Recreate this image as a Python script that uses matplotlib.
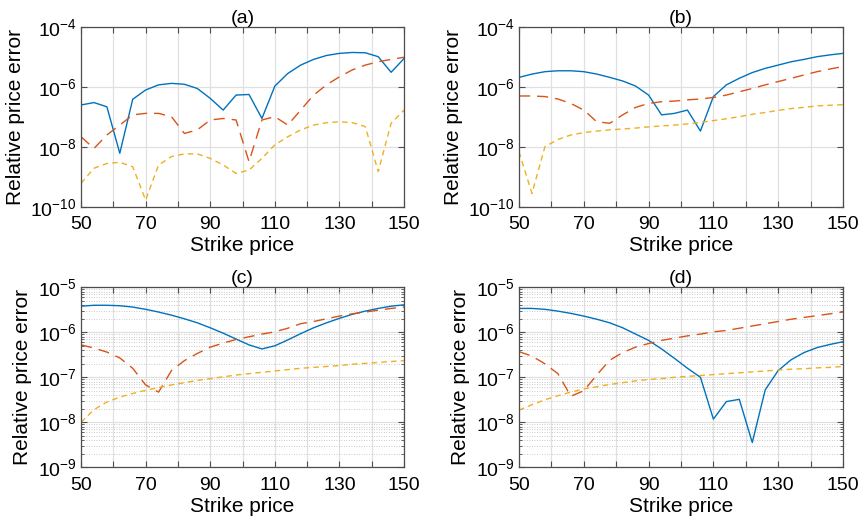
import matplotlib
matplotlib.use("Agg")
import matplotlib.pyplot as plt
from matplotlib.ticker import LogLocator, NullLocator

plt.rcParams['font.family'] = ['Liberation Sans', 'DejaVu Sans']
plt.rcParams['mathtext.fontset'] = 'custom'
plt.rcParams['mathtext.rm'] = 'Liberation Sans'
plt.rcParams['mathtext.default'] = 'regular'

# strike grid
strike = [50, 54, 58, 62, 66, 70, 74, 78, 82, 86, 90, 94, 98, 102, 106,
          110, 114, 118, 122, 126, 130, 134, 138, 142, 146, 150]

# log10 of relative price error
a_blue = [-6.61, -6.53, -6.67, -8.22, -6.42, -6.11, -5.94, -5.89, -5.92, -6.06,
          -6.39, -6.78, -6.28, -6.26, -7.06, -5.98, -5.56, -5.28, -5.09, -4.96,
          -4.89, -4.86, -4.87, -5.00, -5.52, -5.06]
a_red = [-7.67, -8.06, -7.61, -7.28, -6.94, -6.89, -6.89, -7.00, -7.56, -7.44,
         -7.11, -7.06, -7.11, -8.50, -7.11, -7.00, -7.28, -6.78, -6.28, -5.94,
         -5.67, -5.44, -5.28, -5.17, -5.09, -5.02]
a_yellow = [-9.22, -8.72, -8.56, -8.52, -8.67, -9.78, -8.61, -8.33, -8.24, -8.24,
            -8.39, -8.61, -8.89, -8.78, -8.39, -7.94, -7.67, -7.44, -7.28, -7.20,
            -7.17, -7.20, -7.33, -8.83, -7.22, -6.78]

b_blue = [-5.69, -5.58, -5.50, -5.47, -5.47, -5.50, -5.58, -5.69, -5.81, -5.98,
          -6.28, -6.94, -6.89, -6.78, -7.48, -6.33, -5.94, -5.72, -5.53, -5.39,
          -5.28, -5.17, -5.09, -5.00, -4.94, -4.89]
b_red = [-6.31, -6.31, -6.33, -6.41, -6.56, -6.78, -7.17, -7.22, -6.94, -6.69,
         -6.56, -6.50, -6.48, -6.44, -6.41, -6.36, -6.28, -6.17, -6.06, -5.94,
         -5.83, -5.72, -5.61, -5.50, -5.41, -5.33]
b_yellow = [-8.17, -9.56, -8.00, -7.76, -7.61, -7.53, -7.48, -7.44, -7.41, -7.38,
            -7.34, -7.31, -7.28, -7.24, -7.19, -7.13, -7.07, -7.00, -6.92, -6.86,
            -6.79, -6.73, -6.69, -6.64, -6.62, -6.60]

c_blue = [-5.42, -5.40, -5.40, -5.41, -5.44, -5.49, -5.55, -5.62, -5.70, -5.79,
          -5.90, -6.02, -6.15, -6.28, -6.37, -6.30, -6.17, -6.03, -5.90, -5.79,
          -5.69, -5.60, -5.53, -5.47, -5.42, -5.39]
c_red = [-6.28, -6.35, -6.44, -6.57, -6.80, -7.17, -7.33, -6.85, -6.63, -6.47,
         -6.33, -6.24, -6.16, -6.10, -6.04, -5.99, -5.91, -5.81, -5.76, -5.70,
         -5.64, -5.59, -5.55, -5.51, -5.47, -5.44]
c_yellow = [-8.00, -7.72, -7.55, -7.44, -7.36, -7.29, -7.23, -7.17, -7.12, -7.07,
            -7.03, -6.99, -6.95, -6.92, -6.89, -6.86, -6.83, -6.80, -6.78, -6.76,
            -6.74, -6.71, -6.69, -6.67, -6.65, -6.63]

d_blue = [-5.47, -5.47, -5.49, -5.53, -5.58, -5.64, -5.71, -5.79, -5.90, -6.04,
          -6.18, -6.37, -6.58, -6.80, -7.00, -7.93, -7.54, -7.49, -8.45, -7.28,
          -6.85, -6.61, -6.45, -6.34, -6.27, -6.21]
d_red = [-6.43, -6.53, -6.70, -6.92, -7.42, -7.30, -6.95, -6.62, -6.45, -6.33,
         -6.25, -6.18, -6.13, -6.08, -6.04, -5.99, -5.96, -5.91, -5.86, -5.81,
         -5.76, -5.71, -5.67, -5.63, -5.59, -5.55]
d_yellow = [-7.73, -7.61, -7.50, -7.41, -7.33, -7.26, -7.21, -7.16, -7.12, -7.08,
            -7.05, -7.03, -7.00, -6.98, -6.96, -6.94, -6.92, -6.90, -6.88, -6.86,
            -6.84, -6.82, -6.81, -6.79, -6.78, -6.76]

panels = [("(a)", a_blue, a_red, a_yellow, -10, -4, 2),
          ("(b)", b_blue, b_red, b_yellow, -10, -4, 2),
          ("(c)", c_blue, c_red, c_yellow, -9, -5, 1),
          ("(d)", d_blue, d_red, d_yellow, -9, -5, 1)]

positions = [[0.0939, 0.6033, 0.3743, 0.3455],
             [0.6014, 0.6033, 0.3754, 0.3455],
             [0.0939, 0.1031, 0.3743, 0.3455],
             [0.6014, 0.1031, 0.3754, 0.3455]]

blue = (0.0, 0.447, 0.741)
red = (0.85, 0.325, 0.098)
yellow = (0.929, 0.694, 0.125)

fig = plt.figure(figsize=(8.63, 5.21), dpi=100)

for (title, yb, yr, yy, lo, hi, step), pos in zip(panels, positions):
    ax = fig.add_axes(pos)
    ax.plot(strike, [10 ** v for v in yb], color=blue, lw=1.0)
    ax.plot(strike, [10 ** v for v in yr], color=red, lw=1.0, dashes=(8, 5))
    ax.plot(strike, [10 ** v for v in yy], color=yellow, lw=1.0, dashes=(4, 3))
    ax.set_yscale('log')
    ax.set_xlim(50, 150)
    ax.set_ylim(10.0 ** lo, 10.0 ** hi)
    ax.set_xticks(range(50, 151, 10))
    ax.set_xticklabels([str(v) if (v - 50) % 20 == 0 else '' for v in range(50, 151, 10)])
    ax.set_yticks([10.0 ** e for e in range(lo, hi + 1, step)])
    if step == 1:
        ax.yaxis.set_minor_locator(LogLocator(base=10, subs=range(2, 10), numticks=20))
        ax.grid(True, which='minor', axis='y', color='0.72', ls=(0, (1, 2)), lw=0.6)
        ax.yaxis.set_tick_params(which='minor', direction='in', length=2, color='0.3')
    else:
        ax.yaxis.set_minor_locator(NullLocator())
    ax.grid(True, which='major', color='0.88', lw=0.9)
    ax.set_axisbelow(True)
    ax.tick_params(which='major', direction='in', length=4, color='0.3',
                   labelsize=14, top=True, right=True)
    ax.tick_params(axis='x', pad=7)
    ax.tick_params(axis='y', pad=3)
    ax.tick_params(which='minor', top=False, right=True)
    for s in ax.spines.values():
        s.set_color('0.3')
        s.set_linewidth(0.9)
    ax.set_title(title, fontsize=14, pad=3)
    ax.set_xlabel("Strike price", fontsize=15, labelpad=2)
    ax.set_ylabel("Relative price error", fontsize=15, labelpad=4)

fig.savefig("out.png", dpi=100)
